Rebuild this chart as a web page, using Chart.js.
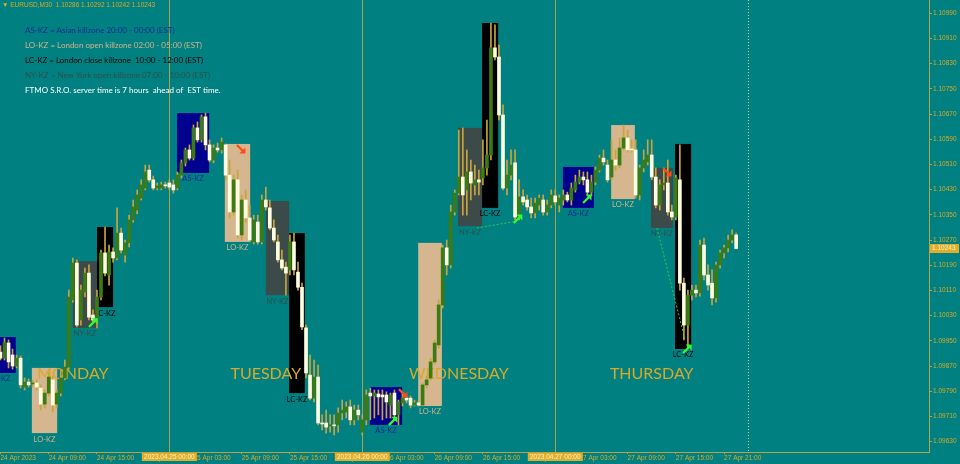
<!DOCTYPE html>
<html>
<head>
<meta charset="utf-8">
<script src="https://cdn.jsdelivr.net/npm/chart.js@4.4.0/dist/chart.umd.min.js"></script>
<style>
  html, body { margin: 0; padding: 0; background: #008080; }
  #wrap { width: 960px; height: 464px; }
</style>
</head>
<body>
<div id="wrap"><canvas id="chart" width="960" height="464"></canvas></div>
<script>
// EURUSD M30 candles, 24 Apr 03:00 -> 27 Apr 23:30 (server time)
const opens = [
  1.09914, 1.09895, 1.09943, 1.09905, 1.09870, 1.09895, 1.09803, 1.09819, 1.09813, 1.09816,
  1.09800, 1.09749, 1.09784, 1.09826, 1.09749, 1.09784, 1.09832, 1.09867, 1.10080, 1.10197,
  1.10016, 1.10105, 1.10165, 1.10032, 1.10022, 1.10089, 1.10229, 1.10159, 1.10232, 1.10213,
  1.10292, 1.10222, 1.10261, 1.10334, 1.10365, 1.10403, 1.10435, 1.10492, 1.10461, 1.10435,
  1.10435, 1.10445, 1.10451, 1.10445, 1.10435, 1.10476, 1.10515, 1.10556, 1.10530, 1.10626,
  1.10588, 1.10661, 1.10572, 1.10524, 1.10562, 1.10556, 1.10572, 1.10476, 1.10359, 1.10461,
  1.10286, 1.10397, 1.10340, 1.10264, 1.10327, 1.10264, 1.10397, 1.10372, 1.10308, 1.10264,
  1.10207, 1.10184, 1.10175, 1.10264, 1.10168, 1.10120, 1.09991, 1.09841, 1.09768, 1.09835,
  1.09689, 1.09689, 1.09680, 1.09683, 1.09683, 1.09721, 1.09724, 1.09740, 1.09699, 1.09730,
  1.09660, 1.09699, 1.09784, 1.09775, 1.09781, 1.09778, 1.09778, 1.09746, 1.09784, 1.09715,
  1.09753, 1.09768, 1.09768, 1.09746, 1.09753, 1.09746, 1.09810, 1.09832, 1.09883, 1.09937,
  1.10064, 1.10245, 1.10191, 1.10359, 1.10419, 1.10470, 1.10429, 1.10486, 1.10445, 1.10461,
  1.10467, 1.10499, 1.10540, 1.10880, 1.10851, 1.10667, 1.10435, 1.10476, 1.10515, 1.10343,
  1.10407, 1.10397, 1.10375, 1.10356, 1.10381, 1.10397, 1.10359, 1.10381, 1.10410, 1.10381,
  1.10397, 1.10413, 1.10397, 1.10429, 1.10454, 1.10470, 1.10461, 1.10422, 1.10454, 1.10492,
  1.10530, 1.10508, 1.10470, 1.10524, 1.10508, 1.10562, 1.10594, 1.10559, 1.10556, 1.10413,
  1.10499, 1.10518, 1.10540, 1.10470, 1.10381, 1.10445, 1.10451, 1.10359, 1.10343, 1.10461,
  1.10133, 1.10000, 1.10095, 1.10111, 1.10102, 1.10254, 1.10159, 1.10133, 1.10086, 1.10191,
  1.10229, 1.10245, 1.10270, 1.10286
];
const highs = [
  1.09934, 1.09959, 1.09953, 1.09924, 1.09905, 1.09902, 1.09832, 1.09829, 1.09826, 1.09826,
  1.09810, 1.09794, 1.09851, 1.09838, 1.09794, 1.09857, 1.09889, 1.10111, 1.10213, 1.10207,
  1.10127, 1.10181, 1.10191, 1.10048, 1.10111, 1.10238, 1.10311, 1.10254, 1.10245, 1.10372,
  1.10308, 1.10270, 1.10349, 1.10397, 1.10429, 1.10461, 1.10508, 1.10508, 1.10473, 1.10451,
  1.10454, 1.10454, 1.10461, 1.10461, 1.10486, 1.10524, 1.10562, 1.10572, 1.10635, 1.10645,
  1.10667, 1.10673, 1.10588, 1.10572, 1.10578, 1.10594, 1.10575, 1.10524, 1.10476, 1.10492,
  1.10413, 1.10429, 1.10381, 1.10349, 1.10349, 1.10413, 1.10438, 1.10397, 1.10334, 1.10286,
  1.10238, 1.10200, 1.10286, 1.10292, 1.10200, 1.10133, 1.10000, 1.09905, 1.09889, 1.09873,
  1.09715, 1.09730, 1.09715, 1.09715, 1.09737, 1.09762, 1.09756, 1.09762, 1.09746, 1.09746,
  1.09715, 1.09794, 1.09800, 1.09794, 1.09794, 1.09794, 1.09788, 1.09784, 1.09794, 1.09762,
  1.09784, 1.09778, 1.09775, 1.09762, 1.09762, 1.09816, 1.09838, 1.09895, 1.09953, 1.10080,
  1.10254, 1.10270, 1.10381, 1.10429, 1.10619, 1.10626, 1.10556, 1.10524, 1.10508, 1.10492,
  1.10588, 1.10651, 1.10959, 1.10953, 1.10889, 1.10699, 1.10524, 1.10556, 1.10556, 1.10461,
  1.10429, 1.10413, 1.10403, 1.10403, 1.10413, 1.10413, 1.10397, 1.10429, 1.10429, 1.10413,
  1.10429, 1.10422, 1.10451, 1.10476, 1.10492, 1.10486, 1.10486, 1.10476, 1.10502, 1.10540,
  1.10556, 1.10524, 1.10588, 1.10556, 1.10594, 1.10635, 1.10619, 1.10588, 1.10588, 1.10508,
  1.10556, 1.10588, 1.10588, 1.10499, 1.10461, 1.10499, 1.10524, 1.10381, 1.10476, 1.10572,
  1.10149, 1.10111, 1.10127, 1.10127, 1.10270, 1.10276, 1.10191, 1.10175, 1.10200, 1.10238,
  1.10254, 1.10286, 1.10302, 1.10292
];
const lows = [
  1.09889, 1.09889, 1.09864, 1.09860, 1.09864, 1.09800, 1.09794, 1.09803, 1.09803, 1.09794,
  1.09730, 1.09737, 1.09775, 1.09724, 1.09737, 1.09775, 1.09826, 1.09860, 1.10073, 1.09994,
  1.10000, 1.10089, 1.10016, 1.10010, 1.09991, 1.10080, 1.10156, 1.10127, 1.10200, 1.10207,
  1.10229, 1.10200, 1.10248, 1.10327, 1.10353, 1.10397, 1.10429, 1.10454, 1.10429, 1.10429,
  1.10429, 1.10435, 1.10429, 1.10419, 1.10429, 1.10467, 1.10505, 1.10524, 1.10524, 1.10581,
  1.10581, 1.10556, 1.10518, 1.10515, 1.10549, 1.10546, 1.10461, 1.10340, 1.10349, 1.10276,
  1.10270, 1.10327, 1.10264, 1.10257, 1.10257, 1.10257, 1.10365, 1.10302, 1.10264, 1.10200,
  1.10175, 1.10095, 1.10159, 1.10159, 1.10111, 1.09985, 1.09832, 1.09762, 1.09756, 1.09683,
  1.09667, 1.09657, 1.09660, 1.09651, 1.09660, 1.09699, 1.09705, 1.09683, 1.09683, 1.09699,
  1.09651, 1.09683, 1.09699, 1.09705, 1.09715, 1.09699, 1.09705, 1.09705, 1.09705, 1.09683,
  1.09743, 1.09753, 1.09737, 1.09743, 1.09743, 1.09743, 1.09800, 1.09826, 1.09876, 1.09927,
  1.10054, 1.10159, 1.10181, 1.10349, 1.10413, 1.10349, 1.10349, 1.10397, 1.10413, 1.10413,
  1.10445, 1.10476, 1.10524, 1.10842, 1.10651, 1.10429, 1.10413, 1.10461, 1.10334, 1.10334,
  1.10381, 1.10365, 1.10340, 1.10340, 1.10365, 1.10349, 1.10349, 1.10372, 1.10381, 1.10359,
  1.10381, 1.10391, 1.10381, 1.10422, 1.10448, 1.10445, 1.10413, 1.10410, 1.10445, 1.10486,
  1.10508, 1.10454, 1.10461, 1.10492, 1.10499, 1.10556, 1.10549, 1.10549, 1.10403, 1.10397,
  1.10486, 1.10508, 1.10461, 1.10372, 1.10365, 1.10429, 1.10349, 1.10334, 1.10334, 1.10111,
  1.09953, 1.09927, 1.10080, 1.10089, 1.10092, 1.10143, 1.10111, 1.10064, 1.10073, 1.10181,
  1.10213, 1.10232, 1.10261, 1.10242
];
const closes = [
  1.09895, 1.09946, 1.09883, 1.09870, 1.09895, 1.09810, 1.09819, 1.09810, 1.09816, 1.09803,
  1.09749, 1.09784, 1.09835, 1.09746, 1.09784, 1.09832, 1.09867, 1.10089, 1.10197, 1.10000,
  1.10111, 1.10165, 1.10025, 1.10016, 1.10089, 1.10229, 1.10165, 1.10232, 1.10213, 1.10292,
  1.10238, 1.10261, 1.10334, 1.10375, 1.10413, 1.10445, 1.10486, 1.10461, 1.10435, 1.10442,
  1.10445, 1.10442, 1.10438, 1.10429, 1.10476, 1.10515, 1.10556, 1.10530, 1.10626, 1.10588,
  1.10661, 1.10572, 1.10524, 1.10562, 1.10556, 1.10581, 1.10476, 1.10359, 1.10461, 1.10286,
  1.10397, 1.10340, 1.10270, 1.10334, 1.10264, 1.10397, 1.10375, 1.10308, 1.10270, 1.10207,
  1.10181, 1.10165, 1.10264, 1.10175, 1.10120, 1.09994, 1.09848, 1.09768, 1.09835, 1.09689,
  1.09686, 1.09676, 1.09683, 1.09680, 1.09721, 1.09730, 1.09740, 1.09699, 1.09730, 1.09715,
  1.09699, 1.09778, 1.09775, 1.09784, 1.09772, 1.09772, 1.09756, 1.09778, 1.09715, 1.09756,
  1.09768, 1.09762, 1.09746, 1.09753, 1.09746, 1.09810, 1.09826, 1.09883, 1.09943, 1.10064,
  1.10245, 1.10191, 1.10359, 1.10419, 1.10470, 1.10413, 1.10486, 1.10451, 1.10461, 1.10454,
  1.10499, 1.10540, 1.10880, 1.10851, 1.10667, 1.10435, 1.10476, 1.10508, 1.10343, 1.10407,
  1.10391, 1.10375, 1.10356, 1.10387, 1.10403, 1.10359, 1.10381, 1.10413, 1.10391, 1.10403,
  1.10413, 1.10397, 1.10435, 1.10454, 1.10470, 1.10461, 1.10422, 1.10454, 1.10492, 1.10530,
  1.10518, 1.10461, 1.10524, 1.10508, 1.10562, 1.10594, 1.10556, 1.10556, 1.10413, 1.10499,
  1.10524, 1.10540, 1.10470, 1.10381, 1.10445, 1.10451, 1.10359, 1.10343, 1.10467, 1.10133,
  1.10000, 1.10095, 1.10111, 1.10102, 1.10254, 1.10159, 1.10127, 1.10086, 1.10191, 1.10229,
  1.10245, 1.10270, 1.10286, 1.10243
];

// axis ticks
const timeTickIndex = [0, 12, 24, 36, 48, 60, 72, 84, 96, 108, 120, 132, 144, 156, 168, 180];
const timeTickLabels = ['24 Apr 2023', '24 Apr 09:00', '24 Apr 15:00', '24 Apr 21:00', '25 Apr 03:00', '25 Apr 09:00',
  '25 Apr 15:00', '25 Apr 21:00', '26 Apr 03:00', '26 Apr 09:00', '26 Apr 15:00', '26 Apr 21:00',
  '27 Apr 03:00', '27 Apr 09:00', '27 Apr 15:00', '27 Apr 21:00'];
const separatorIndex = [42, 90, 138];
const separatorLabels = ['2023.04.25 00:00', '2023.04.26 00:00', '2023.04.27 00:00'];
const nextDayIndex = 186;
const priceTicks = [1.09630, 1.09710, 1.09790, 1.09870, 1.09950, 1.10030, 1.10110, 1.10190, 1.10270,
  1.10350, 1.10430, 1.10510, 1.10590, 1.10670, 1.10750, 1.10830, 1.10910, 1.10990];
const priceTickLabels = ['1.09630', '1.09710', '1.09790', '1.09870', '1.09950', '1.10030', '1.10110', '1.10190', '1.10270',
  '1.10350', '1.10430', '1.10510', '1.10590', '1.10670', '1.10750', '1.10830', '1.10910', '1.10990'];
const lastPrice = 1.10243;

// killzone boxes
const boxKinds  = ['AS-KZ', 'LO-KZ', 'NY-KZ', 'LC-KZ', 'AS-KZ', 'LO-KZ', 'NY-KZ', 'LC-KZ',
                   'AS-KZ', 'LO-KZ', 'NY-KZ', 'LC-KZ', 'AS-KZ', 'LO-KZ', 'NY-KZ', 'LC-KZ'];
const boxStart  = [-4.1, 7.8, 18.0, 24.0, 43.9, 55.8, 66.0, 71.8, 91.9, 103.9, 113.8, 119.8, 139.9, 151.9, 161.8, 167.8];
const boxEnd    = [3.8, 14.1, 24.0, 28.0, 51.9, 62.1, 71.8, 75.7, 99.9, 109.8, 119.8, 123.8, 147.6, 157.8, 167.3, 171.8];
const boxTop    = [1.09962, 1.09864, 1.10203, 1.10311, 1.10673, 1.10575, 1.10394, 1.10292,
                   1.09803, 1.10261, 1.10626, 1.10959, 1.10502, 1.10635, 1.10499, 1.10575];
const boxBottom = [1.09848, 1.09657, 1.09991, 1.10057, 1.10483, 1.10264, 1.10095, 1.09784,
                   1.09683, 1.09743, 1.10314, 1.10372, 1.10372, 1.10400, 1.10308, 1.09924];

// day names
const dayNames = ['MONDAY', 'TUESDAY', 'WEDNESDAY', 'THURSDAY'];
const dayCenterIndex = [18, 66, 114, 162];
const dayLabelPrice = 1.09845;

// signal arrows and links
const greenArrowIndex = [23.0, 97.6, 128.7, 145.9, 170.8];
const greenArrowPrice = [1.10007, 1.09695, 1.10337, 1.10400, 1.09924];
const redArrowIndex = [59.8, 100.1, 165.8];
const redArrowPrice = [1.10559, 1.09784, 1.10486];
const linkFromIndex = [118.5, 163.3];
const linkFromPrice = [1.10308, 1.10308];
const linkToIndex = [128.5, 170.3];
const linkToPrice = [1.10330, 1.09953];

const legendLines = [
  'AS-KZ = Asian killzone 20:00 - 00:00 (EST)',
  'LO-KZ = London open killzone 02:00 - 05:00 (EST)',
  'LC-KZ = London close killzone  10:00 - 12:00 (EST)',
  'NY-KZ = New York open killzone 07:00 - 10:00 (EST)',
  'FTMO S.R.O. server time is 7 hours  ahead of  EST time.'
];
const headerText = '\u25BC EURUSD,M30  1.10286 1.10292 1.10242 1.10243';

// styles
const gold = '#D9A928';
const axisColor = '#B4A24C';
const sepColor = '#B09E48';
const wickColor = '#C9A43A';
const bullColor = '#3C7A14';
const bearColor = '#FFFFE0';
const kzFill = { 'AS-KZ': '#00008F', 'LO-KZ': '#D5B68E', 'NY-KZ': '#3D4A4A', 'LC-KZ': '#000000' };
const kzText = { 'AS-KZ': '#102C96', 'LO-KZ': '#D2B48C', 'NY-KZ': '#2F4F4F', 'LC-KZ': '#000000' };
const legendColors = ['#102C96', '#D2B48C', '#000000', '#2F4F4F', '#FFFFFF'];

const wickData = opens.map((o, i) => ({ x: i, y: [lows[i], highs[i]] }));
const bodyData = opens.map((o, i) => ({ x: i, y: [o, closes[i]] }));

function drawArrow(ctx, px, py, up, color) {
    ctx.save();
    ctx.translate(px, py);
    if (!up) ctx.scale(1, -1);
    ctx.strokeStyle = color;
    ctx.fillStyle = color;
    ctx.lineWidth = 2.2;
    ctx.beginPath();
    ctx.moveTo(-4, 4);
    ctx.lineTo(2, -2);
    ctx.stroke();
    ctx.beginPath();
    ctx.moveTo(4.5, -4.5);
    ctx.lineTo(-1.5, -4.5);
    ctx.lineTo(4.5, 1.5);
    ctx.closePath();
    ctx.fill();
    ctx.restore();
}

const killzonePlugin = {
    id: 'killzones',
    beforeDatasetsDraw(chart) {
        const { ctx, chartArea: a, scales: { x, y } } = chart;
        ctx.save();
        ctx.beginPath();
        ctx.rect(a.left, a.top, a.right - a.left, a.bottom - a.top);
        ctx.clip();

        // period separators
        ctx.strokeStyle = sepColor;
        ctx.lineWidth = 1;
        separatorIndex.forEach(i => {
            const px = Math.round(x.getPixelForValue(i)) + 0.5;
            ctx.beginPath();
            ctx.moveTo(px, a.top);
            ctx.lineTo(px, a.bottom);
            ctx.stroke();
        });
        ctx.setLineDash([1, 2]);
        ctx.strokeStyle = '#CFC89A';
        const nx = Math.round(x.getPixelForValue(nextDayIndex)) + 0.5;
        ctx.beginPath();
        ctx.moveTo(nx, a.top);
        ctx.lineTo(nx, a.bottom);
        ctx.stroke();
        ctx.setLineDash([]);

        // killzone boxes
        ctx.font = '7.5px Lato';
        ctx.textAlign = 'center';
        ctx.textBaseline = 'middle';
        boxKinds.forEach((k, n) => {
            const x0 = x.getPixelForValue(boxStart[n]);
            const x1 = x.getPixelForValue(boxEnd[n]);
            const y0 = y.getPixelForValue(boxTop[n]);
            const y1 = y.getPixelForValue(boxBottom[n]);
            ctx.fillStyle = kzFill[k];
            ctx.fillRect(x0, y0, x1 - x0, y1 - y0);
            ctx.fillStyle = kzText[k];
            ctx.fillText(k, (x0 + x1) / 2, y1 + 6);
        });

        // day names
        ctx.font = '16px Lato';
        ctx.fillStyle = gold;
        dayNames.forEach((d, n) => {
            ctx.fillText(d, x.getPixelForValue(dayCenterIndex[n]), y.getPixelForValue(dayLabelPrice));
        });
        ctx.restore();
    },
    afterDatasetsDraw(chart) {
        const { ctx, chartArea: a, scales: { x, y } } = chart;
        ctx.save();
        ctx.beginPath();
        ctx.rect(a.left, a.top, a.right - a.left, a.bottom - a.top);
        ctx.clip();

        // dashed links
        ctx.strokeStyle = '#28D04A';
        ctx.lineWidth = 1;
        ctx.setLineDash([2, 2]);
        linkFromIndex.forEach((f, n) => {
            ctx.beginPath();
            ctx.moveTo(x.getPixelForValue(f), y.getPixelForValue(linkFromPrice[n]));
            ctx.lineTo(x.getPixelForValue(linkToIndex[n]), y.getPixelForValue(linkToPrice[n]));
            ctx.stroke();
        });
        ctx.setLineDash([]);

        greenArrowIndex.forEach((g, n) => drawArrow(ctx, x.getPixelForValue(g), y.getPixelForValue(greenArrowPrice[n]), true, '#2CFF2C'));
        redArrowIndex.forEach((r, n) => drawArrow(ctx, x.getPixelForValue(r), y.getPixelForValue(redArrowPrice[n]), false, '#FF4A14'));

        // header and legend text
        ctx.textAlign = 'left';
        ctx.textBaseline = 'middle';
        ctx.font = '6.5px "Liberation Sans"';
        ctx.fillStyle = gold;
        ctx.fillText(headerText, 2, 5);
        ctx.font = '8px Lato';
        legendLines.forEach((t, n) => {
            ctx.fillStyle = legendColors[n];
            ctx.fillText(t, 25, 30 + n * 15);
        });
        ctx.restore();
    },
    afterDraw(chart) {
        const { ctx, chartArea: a, scales: { x, y } } = chart;
        ctx.save();
        ctx.font = '6.5px "Liberation Sans"';
        ctx.textBaseline = 'middle';
        // highlighted day-start labels on the time axis
        ctx.textAlign = 'center';
        separatorIndex.forEach((i, n) => {
            const px = x.getPixelForValue(i);
            ctx.fillStyle = '#E0AE2A';
            ctx.fillRect(px - 27.5, a.bottom + 1, 55, 8);
            ctx.fillStyle = '#FCEFC4';
            ctx.fillText(separatorLabels[n], px, a.bottom + 5);
        });
        // last price tag
        const py = y.getPixelForValue(lastPrice);
        ctx.fillStyle = '#E0AE2A';
        ctx.fillRect(a.right + 1, py - 4.5, 29, 9);
        ctx.fillStyle = '#FCEFC4';
        ctx.textAlign = 'left';
        ctx.fillText(lastPrice.toFixed(5), a.right + 3, py);
        ctx.restore();
    }
};

const chartCtx = document.getElementById('chart').getContext('2d');
const eurusdChart = new Chart(chartCtx, {
    type: 'bar',
    data: {
        datasets: [
            {
                label: 'wicks',
                data: wickData,
                barThickness: 1,
                backgroundColor: wickColor,
                grouped: false,
                order: 2
            },
            {
                label: 'bodies',
                data: bodyData,
                barThickness: 3,
                minBarLength: 1,
                backgroundColor: c => closes[c.dataIndex] >= opens[c.dataIndex] ? bullColor : bearColor,
                grouped: false,
                order: 1
            }
        ]
    },
    options: {
        responsive: false,
        animation: false,
        devicePixelRatio: 1,
        layout: { padding: 0 },
        plugins: {
            legend: { display: false },
            tooltip: { enabled: false }
        },
        scales: {
            x: {
                type: 'linear',
                min: -0.124,
                max: 230.97,
                offset: false,
                grid: { display: true, drawOnChartArea: false, tickLength: 2, color: axisColor, offset: false },
                border: { display: true, color: axisColor },
                ticks: {
                    color: gold,
                    font: { family: 'Liberation Sans', size: 6.5 },
                    padding: 0,
                    align: 'start',
                    maxRotation: 0,
                    autoSkip: false,
                    callback: (v, k) => timeTickLabels[k]
                },
                afterBuildTicks: s => { s.ticks = timeTickIndex.map(v => ({ value: v })); },
                afterFit: s => { s.height = 12; s.paddingLeft = 0; s.paddingRight = 0; }
            },
            y: {
                type: 'linear',
                position: 'right',
                min: 1.09597,
                max: 1.11032,
                grid: { display: true, drawOnChartArea: false, tickLength: 3, color: axisColor },
                border: { display: true, color: axisColor },
                ticks: {
                    color: gold,
                    font: { family: 'Liberation Sans', size: 6.5 },
                    padding: 1,
                    autoSkip: false,
                    callback: (v, k) => priceTickLabels[k]
                },
                afterBuildTicks: s => { s.ticks = priceTicks.map(v => ({ value: v })); },
                afterFit: s => { s.width = 31; s.paddingTop = 0; s.paddingBottom = 0; }
            }
        }
    },
    plugins: [killzonePlugin]
});
</script>
</body>
</html>
